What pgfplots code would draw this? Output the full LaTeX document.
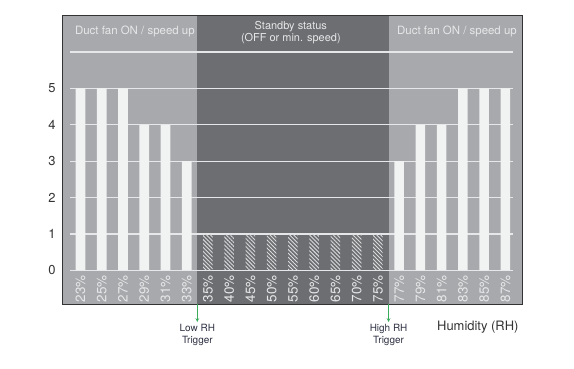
\documentclass[border=0pt]{standalone}
\usepackage{fontspec}
\setmainfont{TeX Gyre Heros}
\usepackage{pgfplots}
\pgfplotsset{compat=1.18}
\usetikzlibrary{patterns.meta}
\definecolor{bgl}{HTML}{A7A9AC}
\definecolor{bgd}{HTML}{6D6E71}
\definecolor{barc}{HTML}{F1F2F2}
\definecolor{gridc}{HTML}{E6E7E8}
\definecolor{hatchc}{HTML}{DADBDC}
\definecolor{arrowc}{HTML}{3AAA5C}
\definecolor{labc}{HTML}{2E3142}
\begin{document}
\begin{tikzpicture}
\begin{axis}[
  scale only axis, width=460bp, height=288.5bp,
  xmin=-0.87, xmax=20.78, ymin=-0.92, ymax=7,
  axis background/.style={fill=bgl},
  axis on top,
  axis line style={draw=black!80, line width=0.8pt},
  ytick={0,...,5}, xtick={0,...,20},
  xticklabels={23\%,25\%,27\%,29\%,31\%,33\%,35\%,40\%,45\%,50\%,55\%,60\%,65\%,70\%,75\%,77\%,79\%,81\%,83\%,85\%,87\%},
  major tick length=0pt,
  /pgf/number format/assume math mode=true,
  yticklabel style={font=\fontsize{13}{13}\selectfont, text=black!80, xshift=-3bp},
  xticklabel style={rotate=90, anchor=west, inner sep=1.5bp, font=\fontsize{13.5}{13.5}\selectfont, text=gridc},
  ybar, bar width=0.45,
]
\fill[bgd] (axis cs:5.5,-0.92) rectangle (axis cs:14.5,7);
\pgfplotsinvokeforeach{0,...,6}{
  \draw[gridc, line width=1.2bp] (axis cs:-0.5,#1) -- (axis cs:20.35,#1);
}
\addplot[fill=barc, draw=none, bar shift=0pt] coordinates {(0,5)(1,5)(2,5)(3,4)(4,4)(5,3)(15,3)(16,4)(17,4)(18,5)(19,5)(20,5)};
\addplot[pattern={Lines[angle=-45, distance=2.8bp, line width=0.9bp]}, pattern color=hatchc, draw=none, bar shift=0pt] coordinates {(6,1)(7,1)(8,1)(9,1)(10,1)(11,1)(12,1)(13,1)(14,1)};
\node[text=gridc, font=\fontsize{11.5}{12}\selectfont] at (axis cs:2.56,6.56) {Duct fan ON / speed up};
\node[text=gridc, font=\fontsize{11.5}{12}\selectfont] at (axis cs:17.72,6.56) {Duct fan ON / speed up};
\node[text=gridc, align=center, font=\fontsize{11}{12}\selectfont] at (axis cs:9.9,6.52) {Standby status\\(OFF or min. speed)};
\coordinate (lowT) at (axis cs:5.5,-0.92);
\coordinate (highT) at (axis cs:14.5,-0.92);
\coordinate (humT) at (axis cs:18.7,-0.92);
\end{axis}
\draw[arrowc, line width=0.7bp, -stealth] (lowT) -- ++(0,-18bp);
\draw[arrowc, line width=0.7bp, -stealth] (highT) -- ++(0,-18bp);
\node[anchor=north, align=center, text=labc, inner sep=1bp, font=\fontsize{10}{12.5}\selectfont] at ([yshift=-19bp]lowT) {Low RH\\Trigger};
\node[anchor=north, align=center, text=labc, inner sep=1bp, font=\fontsize{10}{12.5}\selectfont] at ([yshift=-19bp]highT) {High RH\\Trigger};
\node[text=black!80, font=\fontsize{13}{13}\selectfont] at ([yshift=-23bp]humT) {Humidity (RH)};
\path ([shift={(-62bp,-65bp)}]current axis.south west) rectangle ([shift={(52bp,15.5bp)}]current axis.north east);
\end{tikzpicture}
\end{document}
